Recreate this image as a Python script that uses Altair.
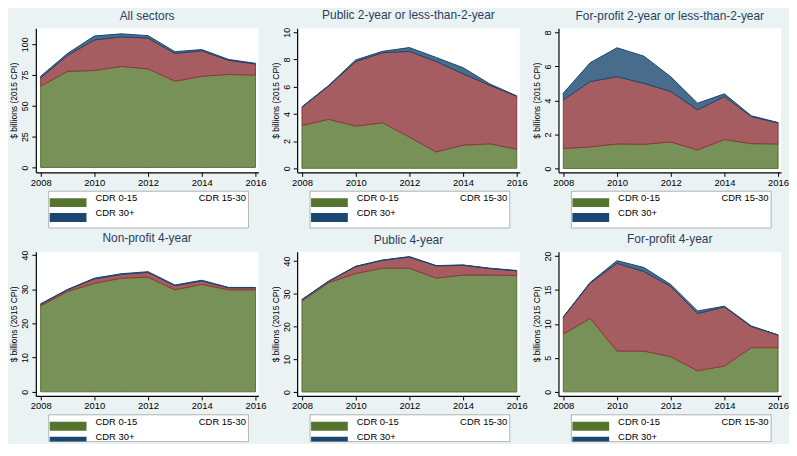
import altair as alt
import pandas as pd

years = [2008, 2009, 2010, 2011, 2012, 2013, 2014, 2015, 2016]
categories = ["CDR 0-15", "CDR 15-30", "CDR 30+"]

titles = [
    "All sectors",
    "Public 2-year or less-than-2-year",
    "For-profit 2-year or less-than-2-year",
    "Non-profit 4-year",
    "Public 4-year",
    "For-profit 4-year",
]

# $ billions (2015 CPI) by cohort default rate band
all_green = [65.9, 78.0, 78.7, 82.0, 80.0, 70.0, 74.0, 75.5, 75.0]
all_red = [6.9, 13.0, 24.8, 24.0, 25.0, 22.5, 20.7, 11.5, 9.0]
all_blue = [1.2, 1.5, 3.2, 2.5, 2.0, 1.5, 1.0, 0.7, 0.5]

pub2_green = [3.15, 3.6, 3.1, 3.35, 2.3, 1.2, 1.7, 1.8, 1.4]
pub2_red = [1.35, 2.47, 4.75, 5.15, 6.3, 6.65, 5.25, 4.3, 3.9]
pub2_blue = [0.02, 0.03, 0.12, 0.1, 0.28, 0.3, 0.45, 0.1, 0.02]

fp2_green = [1.17, 1.27, 1.44, 1.42, 1.56, 1.09, 1.7, 1.46, 1.44]
fp2_red = [2.87, 3.84, 3.96, 3.59, 2.97, 2.36, 2.53, 1.6, 1.23]
fp2_blue = [0.39, 1.11, 1.7, 1.6, 0.87, 0.39, 0.16, 0.04, 0.03]

np4_green = [25.1, 29.3, 31.7, 33.2, 33.5, 29.8, 31.4, 29.8, 29.8]
np4_red = [0.5, 0.5, 1.3, 1.1, 1.4, 1.2, 1.0, 0.6, 0.6]
np4_blue = [0.1, 0.1, 0.2, 0.2, 0.2, 0.2, 0.2, 0.1, 0.1]

pub4_green = [27.8, 33.4, 36.2, 37.8, 37.8, 34.8, 35.7, 35.7, 35.6]
pub4_red = [0.4, 0.4, 2.1, 2.4, 3.4, 3.7, 3.0, 2.0, 1.4]
pub4_blue = [0.05, 0.1, 0.1, 0.1, 0.15, 0.1, 0.1, 0.1, 0.1]

fp4_green = [8.5, 10.8, 6.0, 6.0, 5.16, 3.1, 3.8, 6.5, 6.5]
fp4_red = [2.5, 5.2, 12.9, 11.7, 10.34, 8.4, 8.7, 3.1, 1.85]
fp4_blue = [0.02, 0.1, 0.4, 0.6, 0.3, 0.4, 0.1, 0.1, 0.02]

y_domains = [[-4, 113], [-0.3, 10.3], [-0.23, 8.25], [-1.2, 40.9], [-1.2, 42.8], [-0.6, 20.6]]
y_ticks = [
    [0, 25, 50, 75, 100],
    [0, 2, 4, 6, 8, 10],
    [0, 2, 4, 6, 8],
    [0, 10, 20, 30, 40],
    [0, 10, 20, 30, 40],
    [0, 5, 10, 15, 20],
]
x_ticks = [2008, 2010, 2012, 2014, 2016]

fill_colors = ["#779159", "#a65d62", "#486c8c"]
line_colors = ["#55752f", "#90353b", "#1a476f"]

FONT = "Liberation Sans"
W, H = 224, 145


def legend_layers(bottom_limit):
    one = pd.DataFrame({"k": [0]})
    layers = []
    box_bottom = min(201, bottom_limit)
    layers.append(
        alt.Chart(one).mark_rect(fill="white", stroke="#a0a0a0", strokeWidth=0.8).encode(
            x=alt.value(13), x2=alt.value(214), y=alt.value(164), y2=alt.value(box_bottom)
        )
    )
    layers.append(
        alt.Chart(one).mark_rect(fill=line_colors[0]).encode(
            x=alt.value(14), x2=alt.value(51), y=alt.value(171), y2=alt.value(min(180, bottom_limit))
        )
    )
    if bottom_limit > 186:
        layers.append(
            alt.Chart(one).mark_rect(fill=line_colors[2]).encode(
                x=alt.value(14), x2=alt.value(51), y=alt.value(186), y2=alt.value(min(195, bottom_limit))
            )
        )
    for label, xx, yy in [(categories[0], 60, 171), (categories[1], 164, 171), (categories[2], 60, 186)]:
        layers.append(
            alt.Chart(one).mark_text(
                align="left", baseline="middle", font=FONT, fontSize=9.5, color="black"
            ).encode(x=alt.value(xx), y=alt.value(yy), text=alt.value(label))
        )
    return layers


def panel(i, green, red, blue, bottom_limit):
    rows = []
    for j, (cat, vals) in enumerate(zip(categories, [green, red, blue])):
        for yr, v in zip(years, vals):
            rows.append({"year": yr, "cat": cat, "ord": j, "value": v})
    df = pd.DataFrame(rows)
    area = alt.Chart(df).mark_area(strokeWidth=1, opacity=1, strokeJoin="round").encode(
        x=alt.X(
            "year:Q",
            scale=alt.Scale(domain=[2007.82, 2016.11], nice=False, zero=False),
            axis=alt.Axis(values=x_ticks, format="d", title=None, labelFontSize=9.5,
                          tickSize=4, labelPadding=1, labelFont=FONT),
        ),
        y=alt.Y(
            "value:Q",
            stack="zero",
            scale=alt.Scale(domain=y_domains[i], nice=False, zero=False),
            axis=alt.Axis(values=y_ticks[i], title="$ billions (2015 CPI)", labelAngle=270,
                          labelAlign="center", labelBaseline="bottom", labelFontSize=9,
                          tickSize=4, labelPadding=2, titleFontSize=8.5, titleFont=FONT,
                          titleFontWeight="normal", titlePadding=2, labelFont=FONT),
        ),
        color=alt.Color("cat:N", scale=alt.Scale(domain=categories, range=fill_colors), legend=None),
        stroke=alt.Stroke("cat:N", scale=alt.Scale(domain=categories, range=line_colors), legend=None),
        order=alt.Order("ord:Q", sort="ascending"),
    )
    return alt.layer(area, *legend_layers(bottom_limit)).properties(
        width=W,
        height=H,
        title=alt.TitleParams(titles[i], fontSize=12, font=FONT, fontWeight="normal",
                              color="#2c3e60", anchor="middle", offset=5),
    )


panels = [
    panel(0, all_green, all_red, all_blue, 999),
    panel(1, pub2_green, pub2_red, pub2_blue, 999),
    panel(2, fp2_green, fp2_red, fp2_blue, 999),
    panel(3, np4_green, np4_red, np4_blue, 191),
    panel(4, pub4_green, pub4_red, pub4_blue, 191),
    panel(5, fp4_green, fp4_red, fp4_blue, 191),
]

chart = alt.concat(
    *panels, columns=3, spacing={"row": 80, "column": 39}, bounds="flush"
).configure(
    background="#eaf2f3",
    padding={"left": 2, "top": 0, "right": 0, "bottom": 0},
).configure_view(
    fill="white", stroke=None
).configure_axis(
    grid=False, domainColor="black", domainWidth=1.2, tickColor="black", tickWidth=1,
    labelColor="black", titleColor="black",
)

chart.save("out.html", embed_options={"renderer": "svg", "actions": False})
